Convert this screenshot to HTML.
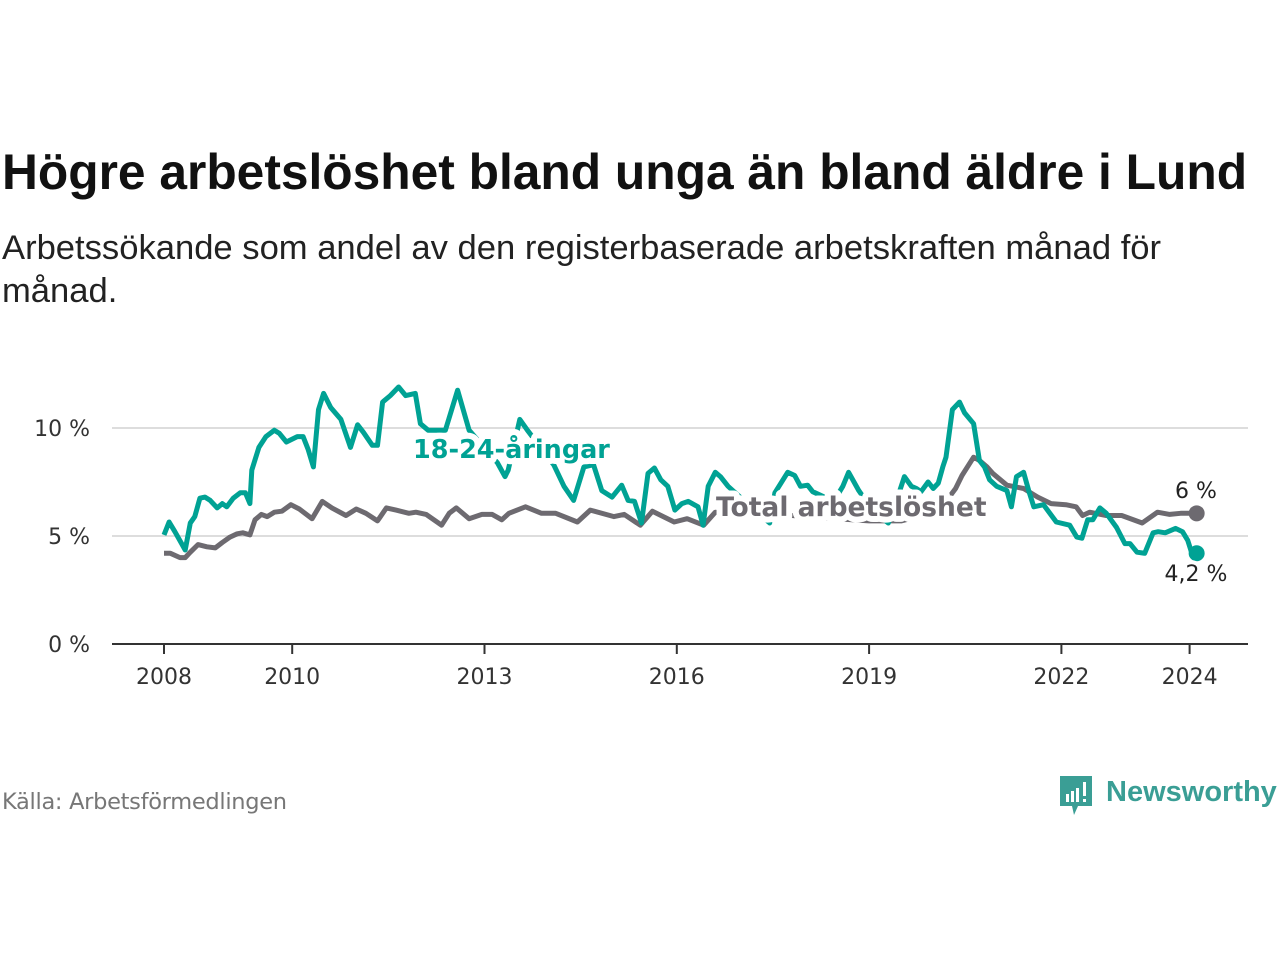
<!DOCTYPE html>
<html><head><meta charset="utf-8">
<style>
body{margin:0;width:1280px;height:960px;background:#fff;font-family:"Liberation Sans","DejaVu Sans",sans-serif;overflow:hidden;position:relative}
#title{position:absolute;left:2px;top:143px;font-size:49.7px;font-weight:bold;color:#111;font-family:"Liberation Sans",sans-serif;white-space:nowrap}
#sub{position:absolute;left:2px;top:227px;font-size:34.6px;line-height:43px;color:#222;width:1200px;font-family:"Liberation Sans",sans-serif}
#src{position:absolute;left:2px;top:789px;font-size:22.5px;color:#777;font-family:"DejaVu Sans","Liberation Sans",sans-serif;letter-spacing:-0.3px}
#logo{position:absolute;left:1058px;top:772px}
svg text{font-family:"DejaVu Sans","Liberation Sans",sans-serif}
</style></head><body>
<div id="title">Högre arbetslöshet bland unga än bland äldre i Lund</div>
<div id="sub">Arbetssökande som andel av den registerbaserade arbetskraften månad för månad.</div>
<svg id="chart" width="1280" height="960" style="position:absolute;left:0;top:0"></svg>
<div id="src">Källa: Arbetsförmedlingen</div>
<svg id="logo" width="222" height="48">
<path d="M2 4 h32 v30 h-14 l-4 9 l-2 -9 h-12 z" fill="#3a9e95"/>
<rect x="8" y="22" width="3" height="8" fill="#fff"/><rect x="13" y="19" width="3" height="11" fill="#fff"/><rect x="18" y="16" width="3" height="14" fill="#fff"/><rect x="25" y="10" width="3" height="14" fill="#fff"/><rect x="25" y="27" width="3" height="3" fill="#fff"/>
<text x="48" y="29" font-size="29" font-weight="bold" fill="#3a9e95" style="font-family:'Liberation Sans',sans-serif">Newsworthy</text>
</svg>
<script>
const yTicks=[0,5,10];
const yTickLabels=["0 %","5 %","10 %"];
const xTicks=[2008,2010,2013,2016,2019,2022,2024];
const youthDates=[2008,2008.08,2008.17,2008.33,2008.41,2008.48,2008.56,2008.64,2008.72,2008.83,2008.91,2008.98,2009.08,2009.19,2009.27,2009.34,2009.37,2009.48,2009.59,2009.72,2009.8,2009.91,2010.08,2010.17,2010.25,2010.33,2010.41,2010.49,2010.6,2010.76,2010.91,2011.02,2011.11,2011.25,2011.33,2011.41,2011.53,2011.66,2011.77,2011.92,2012,2012.12,2012.39,2012.58,2012.76,2013.2,2013.32,2013.37,2013.55,2013.67,2014.08,2014.24,2014.39,2014.55,2014.7,2014.83,2014.99,2015.14,2015.24,2015.34,2015.45,2015.55,2015.65,2015.75,2015.86,2015.97,2016.08,2016.18,2016.33,2016.41,2016.49,2016.6,2016.68,2016.8,2017.1,2017.45,2017.53,2017.73,2017.84,2017.93,2018.04,2018.12,2018.45,2018.59,2018.68,2018.84,2019.05,2019.3,2019.39,2019.55,2019.66,2019.74,2019.81,2019.92,2020.0,2020.08,2020.15,2020.2,2020.3,2020.41,2020.49,2020.63,2020.72,2020.8,2020.88,2020.99,2021.15,2021.22,2021.3,2021.41,2021.49,2021.57,2021.72,2021.92,2022.13,2022.24,2022.32,2022.41,2022.49,2022.6,2022.7,2022.86,2022.99,2023.07,2023.18,2023.3,2023.43,2023.51,2023.62,2023.78,2023.89,2023.97,2024.03,2024.11];
const youthValues=[5.05,5.65,5.2,4.35,5.6,5.9,6.75,6.8,6.65,6.3,6.5,6.35,6.75,7.0,7.0,6.5,8.05,9.1,9.6,9.9,9.75,9.35,9.6,9.6,9.0,8.2,10.85,11.6,10.95,10.4,9.1,10.15,9.8,9.2,9.2,11.2,11.5,11.9,11.5,11.6,10.2,9.9,9.9,11.75,9.9,8.4,7.75,8.05,10.4,9.9,8.3,7.3,6.65,8.2,8.3,7.1,6.8,7.35,6.65,6.6,5.6,7.9,8.15,7.6,7.3,6.2,6.5,6.6,6.35,5.5,7.3,7.95,7.75,7.3,6.5,5.6,7.0,7.95,7.8,7.3,7.35,7.05,6.6,7.3,7.95,7.1,6.2,5.6,6.3,7.75,7.3,7.2,7.05,7.5,7.2,7.45,8.2,8.65,10.85,11.2,10.7,10.2,8.5,8.2,7.6,7.3,7.1,6.35,7.75,7.95,7.1,6.35,6.45,5.65,5.5,4.95,4.9,5.75,5.75,6.3,6.05,5.4,4.65,4.65,4.25,4.2,5.15,5.2,5.15,5.35,5.2,4.8,4.25,4.2];
const totalDates=[2008,2008.1,2008.25,2008.33,2008.41,2008.53,2008.67,2008.8,2008.91,2009.03,2009.14,2009.23,2009.34,2009.42,2009.52,2009.61,2009.72,2009.84,2009.98,2010.11,2010.31,2010.47,2010.62,2010.84,2011.0,2011.15,2011.33,2011.47,2011.62,2011.82,2011.93,2012.09,2012.33,2012.45,2012.56,2012.76,2012.96,2013.12,2013.27,2013.38,2013.64,2013.89,2014.11,2014.45,2014.65,2015.02,2015.18,2015.43,2015.62,2015.96,2016.16,2016.42,2016.6,2016.8,2017.2,2017.6,2018.0,2018.5,2019.0,2019.5,2019.9,2020.2,2020.35,2020.45,2020.63,2020.72,2020.84,2020.93,2021.15,2021.41,2021.63,2021.84,2022.07,2022.23,2022.33,2022.44,2022.7,2022.94,2023.26,2023.5,2023.69,2023.86,2024.11];
const totalValues=[4.2,4.2,4.0,4.0,4.25,4.6,4.5,4.45,4.7,4.95,5.1,5.15,5.05,5.75,6.0,5.9,6.1,6.15,6.45,6.25,5.8,6.6,6.3,5.95,6.25,6.05,5.7,6.3,6.2,6.05,6.1,6.0,5.5,6.05,6.3,5.8,6.0,6.0,5.75,6.05,6.35,6.05,6.05,5.65,6.2,5.9,6.0,5.5,6.15,5.65,5.8,5.5,6.1,6.0,6.1,6.0,5.9,5.8,5.7,5.7,6.0,6.6,7.2,7.8,8.65,8.5,8.2,7.9,7.35,7.2,6.8,6.5,6.45,6.35,5.95,6.1,5.95,5.95,5.6,6.1,6.0,6.05,6.05];

const NS="http://www.w3.org/2000/svg";
const svg=document.getElementById('chart');
const X=d=>164+(d-2008)*64.1;
const Y=v=>644-v*21.6;
function mk(tag,attrs,parent){const e=document.createElementNS(NS,tag);for(const k in attrs)e.setAttribute(k,attrs[k]);(parent||svg).appendChild(e);return e;}
yTicks.forEach((t,i)=>{
  if(t>0){const g=mk('line',{x1:112,x2:1248,y1:Y(t),y2:Y(t),stroke:'#ddd','stroke-width':2});
  
  }
  const l=mk('text',{x:90,y:Y(t)+8,'text-anchor':'end','font-size':22,fill:'#333'});l.textContent=yTickLabels[i];
  
  
});
const ax=mk('line',{x1:112,x2:1248,y1:644,y2:644,stroke:'#333','stroke-width':2});


xTicks.forEach(t=>{
  const tk=mk('line',{x1:X(t),x2:X(t),y1:644,y2:654,stroke:'#333','stroke-width':2});
  
  
  const l=mk('text',{x:X(t),y:684,'text-anchor':'middle','font-size':22,fill:'#333'});l.textContent=t;
  
  
});
function line(dates,vals,color,name){
  const d=dates.map((t,i)=>(i?'L':'M')+X(t).toFixed(1)+' '+Y(vals[i]).toFixed(1)).join(' ');
  const p=mk('path',{d:d,fill:'none',stroke:color,'stroke-width':5,'stroke-linejoin':'round'});
  
  
  const n=dates.length-1;
  const c=mk('circle',{cx:X(dates[n]),cy:Y(vals[n]),r:8,fill:color});
  
  
}
line(totalDates,totalValues,'#6d6a70','total-line');
line(youthDates,youthValues,'#00a294','youth-line');
function lab(txt,x,y,color,size,weight,name,anchor,sw){
  const t=mk('text',{x:x,y:y,'font-size':size,'font-weight':weight,fill:color,stroke:'#fff','stroke-width':sw||8,'paint-order':'stroke','stroke-linejoin':'round','text-anchor':anchor||'start'});
  t.textContent=txt;
  
  
}
lab('18-24-åringar',413,458,'#00a294',25.5,'bold','youth-series-label','start',12);
lab('Total arbetslöshet',716,516,'#6d6a70',26.5,'bold','total-series-label','start',12);
lab('6 %',1196,498,'#222',22,'normal','total-end-value','middle');
lab('4,2 %',1196,581,'#222',22,'normal','youth-end-value','middle');
</script>
</body></html>
